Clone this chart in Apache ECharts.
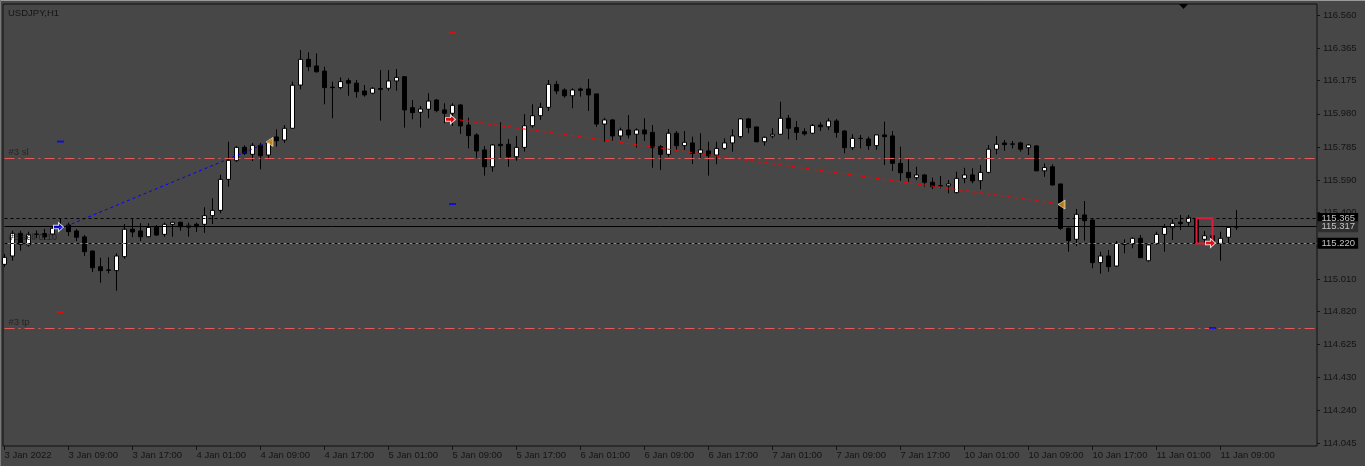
<!DOCTYPE html>
<html><head><meta charset="utf-8">
<script src="https://cdn.jsdelivr.net/npm/echarts@6/dist/echarts.min.js"></script>
<style>html,body{margin:0;padding:0;background:#474747;}#c{width:1365px;height:466px;}</style>
</head><body><div id="c"></div>
<script>
// ---------- data ----------
const timeLabels = ['3 Jan 2022','3 Jan 09:00','3 Jan 17:00','4 Jan 01:00','4 Jan 09:00','4 Jan 17:00',
  '5 Jan 01:00','5 Jan 09:00','5 Jan 17:00','6 Jan 01:00','6 Jan 09:00','6 Jan 17:00','7 Jan 01:00',
  '7 Jan 09:00','7 Jan 17:00','10 Jan 01:00','10 Jan 09:00','10 Jan 17:00','11 Jan 01:00','11 Jan 09:00'];

const opens = [115.096,115.145,115.278,115.210,115.274,115.277,115.274,115.306,115.327,115.292,
115.257,115.174,115.082,115.063,115.059,115.141,115.302,115.292,115.258,115.313,
115.272,115.331,115.343,115.313,115.331,115.331,115.382,115.413,115.595,115.705,
115.783,115.742,115.795,115.738,115.844,115.826,115.895,116.149,116.300,116.261,
116.231,116.136,116.134,116.175,116.160,116.114,116.101,116.128,116.130,116.173,
116.198,116.016,115.989,116.007,116.061,116.003,115.983,116.032,115.914,115.856,
115.768,115.669,115.801,115.801,115.728,115.783,115.910,115.969,116.018,116.153,
116.120,116.086,116.126,116.126,116.097,115.920,115.944,115.850,115.885,115.860,
115.885,115.871,115.787,115.742,115.866,115.793,115.809,115.748,115.762,115.738,
115.777,115.809,115.846,115.950,115.903,115.816,115.850,115.860,115.954,115.899,
115.875,115.866,115.914,115.904,115.938,115.879,115.781,115.836,115.832,115.793,
115.856,115.850,115.689,115.636,115.605,115.621,115.578,115.558,115.557,115.517,
115.601,115.621,115.587,115.636,115.772,115.809,115.803,115.809,115.781,115.791,
115.645,115.669,115.568,115.308,115.243,115.386,115.356,115.106,115.145,115.086,
115.216,115.216,115.249,115.117,115.219,115.272,115.311,115.343,115.343,115.366,
115.243,115.264,115.219,115.255,115.313];

const highs = [115.157,115.294,115.294,115.288,115.295,115.304,115.315,115.366,115.341,115.304,
115.268,115.177,115.135,115.137,115.161,115.333,115.366,115.337,115.337,115.327,
115.341,115.346,115.346,115.341,115.341,115.431,115.484,115.622,115.816,115.791,
115.795,115.809,115.809,115.826,115.889,115.914,116.169,116.355,116.341,116.335,
116.257,116.169,116.194,116.189,116.179,116.149,116.136,116.237,116.237,116.243,
116.202,116.061,116.026,116.101,116.067,116.042,116.042,116.036,115.957,115.866,
115.791,115.803,115.931,115.832,115.850,115.978,116.036,116.045,116.179,116.173,
116.130,116.130,116.134,116.185,116.097,115.957,115.950,115.899,115.973,115.895,
115.954,115.914,115.797,115.891,115.879,115.879,115.846,115.866,115.816,115.816,
115.836,115.889,115.954,115.954,115.904,115.846,115.895,116.051,115.973,115.938,
115.895,115.920,115.931,115.954,115.950,115.885,115.860,115.856,115.846,115.856,
115.934,115.879,115.787,115.719,115.669,115.625,115.605,115.615,115.591,115.640,
115.663,115.660,115.679,115.797,115.850,115.826,115.820,115.816,115.803,115.797,
115.689,115.683,115.568,115.313,115.421,115.468,115.360,115.170,115.180,115.233,
115.243,115.255,115.268,115.219,115.288,115.333,115.360,115.386,115.386,115.368,
115.292,115.268,115.288,115.317,115.415];

const lows = [115.082,115.117,115.176,115.200,115.249,115.239,115.268,115.298,115.262,115.233,
115.145,115.051,114.988,115.043,114.941,115.129,115.255,115.233,115.255,115.262,
115.258,115.258,115.294,115.258,115.286,115.281,115.333,115.396,115.552,115.697,
115.738,115.703,115.654,115.713,115.787,115.809,115.891,116.124,116.231,116.222,
116.036,115.954,116.124,116.086,116.075,116.081,116.095,115.940,116.116,116.116,
115.899,115.948,115.899,115.954,115.989,115.925,115.909,115.862,115.777,115.722,
115.617,115.640,115.722,115.669,115.705,115.758,115.899,115.944,115.997,116.095,
116.075,116.013,116.081,115.997,115.904,115.816,115.820,115.826,115.836,115.781,
115.820,115.663,115.650,115.728,115.768,115.768,115.685,115.719,115.617,115.684,
115.768,115.758,115.836,115.866,115.813,115.793,115.836,115.856,115.830,115.826,
115.852,115.860,115.879,115.885,115.840,115.748,115.768,115.777,115.768,115.768,
115.679,115.644,115.586,115.581,115.591,115.552,115.538,115.542,115.513,115.513,
115.572,115.572,115.536,115.630,115.742,115.763,115.777,115.758,115.738,115.644,
115.610,115.560,115.298,115.170,115.204,115.235,115.073,115.041,115.052,115.082,
115.161,115.190,115.133,115.112,115.210,115.170,115.239,115.298,115.321,115.217,
115.219,115.210,115.117,115.219,115.298];

const closes = [115.137,115.278,115.214,115.272,115.272,115.257,115.308,115.318,115.288,115.255,
115.170,115.076,115.059,115.061,115.145,115.302,115.286,115.258,115.313,115.268,
115.331,115.343,115.317,115.325,115.317,115.382,115.413,115.595,115.707,115.783,
115.748,115.795,115.734,115.815,115.822,115.895,116.148,116.300,116.257,116.227,
116.134,116.134,116.169,116.160,116.110,116.091,116.130,116.124,116.173,116.194,
116.003,115.987,116.008,116.055,115.999,115.983,116.030,115.909,115.852,115.762,
115.669,115.797,115.793,115.728,115.783,115.910,115.969,116.018,116.153,116.114,
116.086,116.120,116.118,116.091,115.920,115.944,115.850,115.885,115.856,115.885,
115.862,115.781,115.742,115.866,115.793,115.813,115.748,115.768,115.734,115.777,
115.809,115.850,115.950,115.899,115.816,115.842,115.860,115.954,115.895,115.871,
115.862,115.912,115.904,115.938,115.871,115.781,115.836,115.835,115.793,115.856,
115.846,115.689,115.634,115.605,115.621,115.578,115.552,115.557,115.568,115.601,
115.621,115.586,115.636,115.772,115.801,115.799,115.802,115.772,115.797,115.645,
115.665,115.562,115.308,115.235,115.390,115.352,115.106,115.145,115.082,115.219,
115.214,115.249,115.135,115.210,115.272,115.313,115.337,115.335,115.372,115.219,
115.264,115.219,115.249,115.313,115.317];

const priceTicks = ['114.045','114.240','114.430','114.625','114.820','115.010','115.205',
  '115.400','115.590','115.785','115.980','116.175','116.365','116.560'];

const askPrice = 115.365, bidPrice = 115.317, orderPrice = 115.220;
const slPrice = 115.718, tpPrice = 114.722;
const orderText = '#3 sell 0.10', slText = '#3 sl', tpText = '#3 tp';

const buyTradeLine = [[7, 115.306], [33, 115.813]];
const sellTradeLine = [[56, 115.950], [132, 115.450]];
const buyArrows = [[7, 115.315]];
const sellArrows = [[56, 115.947], [151, 115.221]];
const closeMarks = [[33, 115.815], [132, 115.447]];
const slMarks = [[7, 114.816], [56, 116.455], [151, 115.718]];
const tpMarks = [[7, 115.817], [56, 115.450], [151, 114.722]];
const boxCorners = [[149, 115.366], [151, 115.219]];

const barsPerLabel = 8;
const slotCount = 165;   // bars + right-side chart shift
// ---------- chart ----------
const categories = Array.from({length: slotCount}, (_, i) => String(i));
const labelAt = i => (i % barsPerLabel === 0 && i / barsPerLabel < timeLabels.length) ? timeLabels[i / barsPerLabel] : null;
const candleData = opens.map((o, i) => [o, closes[i], lows[i], highs[i]]);
const lastIdx = slotCount - 1;
const TXT = '#141414';
const FONT = 'Liberation Sans, Arial, sans-serif';
const FS = 9.5;

function hline(price, style, label) {
  return [{coord: [0, price], lineStyle: style, label: label || {show: false}}, {coord: [lastIdx, price]}];
}
const boxLabel = (txt, bg) => ({show: true, position: 'end', distance: 1, formatter: txt,
  backgroundColor: bg, color: '#c4c4c4', fontSize: FS, fontFamily: FONT, lineHeight: 11, padding: [0, 3, 0, 4]});
const textLabel = txt => ({show: true, position: 'insideStartTop', distance: [4, 1], formatter: txt,
  color: '#262626', fontSize: FS, fontFamily: FONT});

const chart = echarts.init(document.getElementById('c'), null, {renderer: 'canvas'});
chart.setOption({
  animation: false,
  backgroundColor: '#474747',
  title: {text: 'USDJPY,H1', left: 8, top: 8, padding: 0,
    textStyle: {color: TXT, fontSize: FS, fontWeight: 'normal', fontFamily: FONT}},
  grid: [
    {left: 0.5, right: 44.5, top: 4, bottom: 20, show: false, outerBoundsMode: 'none', containLabel: false},
    {left: 3, right: 48, top: 4, bottom: 20, show: true, borderColor: '#111', borderWidth: 1, backgroundColor: 'transparent', outerBoundsMode: 'none'}
  ],
  xAxis: {
    type: 'category', data: categories, boundaryGap: true, gridIndex: 0,
    axisLine: {show: false},
    axisTick: {show: true, alignWithLabel: true, length: 4, lineStyle: {color: TXT}, interval: (i) => labelAt(i) !== null},
    axisLabel: {show: true, interval: (i) => labelAt(i) !== null, formatter: (v, i) => labelAt(+v) || '',
      align: 'left', margin: 4, color: TXT, fontSize: FS, fontFamily: FONT, hideOverlap: false},
    splitLine: {show: false}
  },
  yAxis: {
    type: 'value', position: 'right', offset: -3.5, min: 114.029, max: 116.625, gridIndex: 0,
    axisLine: {show: false},
    axisTick: {show: true, length: 3, lineStyle: {color: TXT}, customValues: priceTicks.map(Number)},
    axisLabel: {show: true, margin: 6, color: TXT, fontSize: FS, fontFamily: FONT,
      customValues: priceTicks.map(Number), formatter: v => v.toFixed(3)},
    splitLine: {show: false}
  },
  graphic: [
    {type: 'rect', shape: {x: 0, y: 0, width: 1365, height: 1}, style: {fill: '#9a9a9a'}, silent: true},
    {type: 'rect', shape: {x: 0, y: 0, width: 1, height: 466}, style: {fill: '#7a7a7a'}, silent: true},
    {type: 'polygon', shape: {points: [[1179, 4], [1188, 4], [1183.5, 9]]}, style: {fill: '#000'}, silent: true}
  ],
  series: [
    {
      type: 'line', name: 'levels', data: [], z: 1, silent: true,
      markLine: {
        silent: true, symbol: ['none', 'none'], animation: false,
        data: [
          hline(slPrice, {color: '#e35a5a', type: [10, 4, 2, 4], width: 1}, textLabel(slText)),
          hline(tpPrice, {color: '#e35a5a', type: [10, 4, 2, 4], width: 1}, textLabel(tpText)),
          hline(orderPrice, {color: '#6f93b8', type: 'solid', width: 1}, textLabel(orderText)),
          hline(orderPrice, {color: '#000', type: [3, 3], width: 1}, boxLabel(orderPrice.toFixed(3), '#000')),
          hline(askPrice, {color: '#000', type: [3, 3], width: 1}, boxLabel(askPrice.toFixed(3), '#000')),
          hline(bidPrice, {color: '#000', type: 'solid', width: 1}, boxLabel(bidPrice.toFixed(3), '#2e2e2e'))
        ]
      }
    },
    {
      type: 'candlestick', name: 'USDJPY', data: candleData, barWidth: 5, z: 3,
      itemStyle: {color: '#ffffff', color0: '#000000', borderColor: '#000000', borderColor0: '#000000', borderWidth: 1}
    },
    {
      type: 'line', name: 'rectangle', data: [], z: 7, silent: true,
      markArea: {
        silent: true, z: 7,
        itemStyle: {color: 'rgba(0,0,0,0)', borderColor: '#dc1e3c', borderWidth: 2, borderType: 'solid'},
        data: [[{coord: boxCorners[0]}, {coord: boxCorners[1]}]]
      }
    },
    {type: 'line', data: buyTradeLine, symbol: 'none', z: 4, silent: true,
      lineStyle: {color: '#0000ff', width: 1, type: [3, 3]}},
    {type: 'line', data: sellTradeLine, symbol: 'none', z: 4, silent: true,
      lineStyle: {color: '#ff0000', width: 1, type: [4, 3]}},
    {type: 'scatter', data: slMarks, symbol: 'rect', symbolSize: [7, 2], z: 5, silent: true, itemStyle: {color: '#ff0000'}},
    {type: 'scatter', data: tpMarks, symbol: 'rect', symbolSize: [7, 2], z: 5, silent: true, itemStyle: {color: '#0000ff'}},
    {type: 'scatter', data: buyArrows, symbol: 'path://M0,3H5V0L10,5L5,10V7H0Z', symbolSize: [10, 9], symbolOffset: [-2, 0],
      z: 8, silent: true, itemStyle: {color: '#0000ff', borderColor: '#ffffff', borderWidth: 1}},
    {type: 'scatter', data: sellArrows, symbol: 'path://M0,3H5V0L10,5L5,10V7H0Z', symbolSize: [10, 9], symbolOffset: [-2, 0],
      z: 8, silent: true, itemStyle: {color: '#ff0000', borderColor: '#ffffff', borderWidth: 1}},
    {type: 'scatter', data: closeMarks, symbol: 'triangle', symbolRotate: 90, symbolSize: [9, 7], symbolOffset: [1, 0],
      z: 8, silent: true, itemStyle: {color: '#e09a1c', borderColor: '#ffffff', borderWidth: 0.7}}
  ]
});
</script></body></html>
